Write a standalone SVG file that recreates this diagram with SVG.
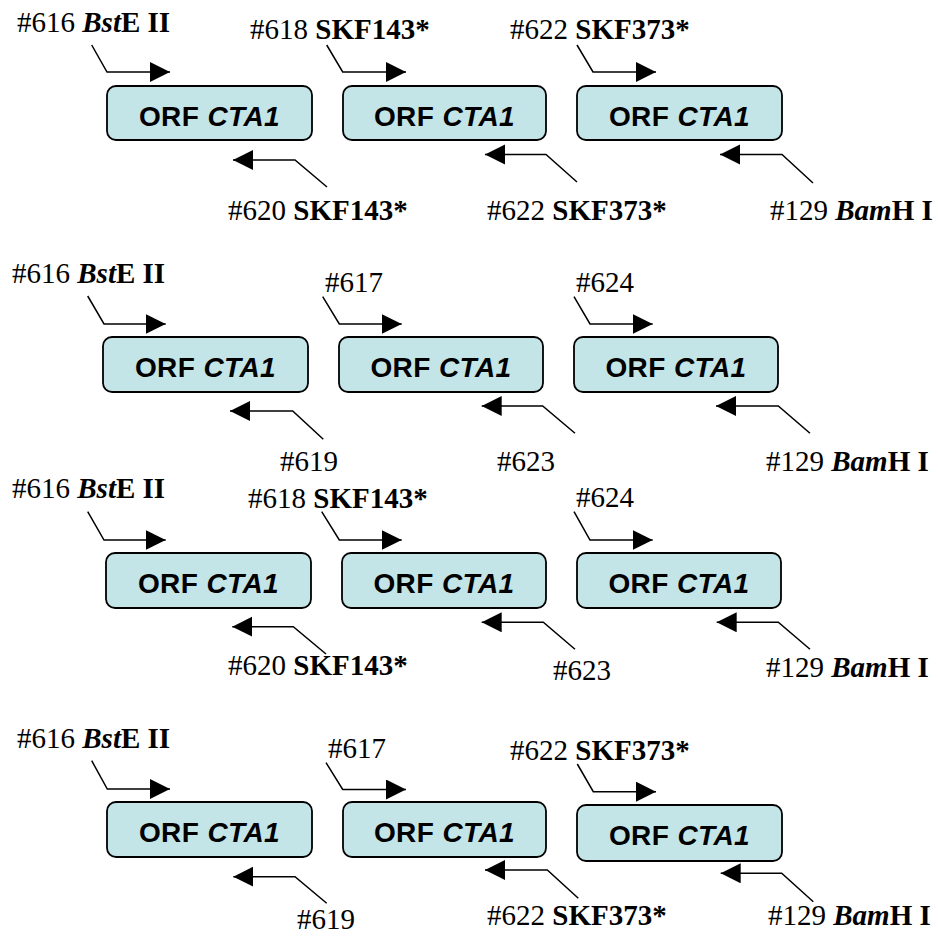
<svg xmlns="http://www.w3.org/2000/svg" width="938" height="937" viewBox="0 0 938 937">
<defs>
<marker id="ah" markerUnits="userSpaceOnUse" markerWidth="22" markerHeight="22" refX="20" refY="10" orient="auto">
<path d="M0,0 L20,10 L0,20 Z" fill="#000"/>
</marker>
<style>
.box{fill:#c4e5e8;stroke:#000;stroke-width:1.8}
.bt{font-family:"Liberation Sans",Arial,sans-serif;font-weight:bold;font-size:28px;letter-spacing:0.4px;text-anchor:middle;fill:#000}
.lb{font-family:"Liberation Serif","Times New Roman",serif;font-size:29px;fill:#000}
.b{font-weight:bold}
.bi{font-weight:bold;font-style:italic}
.i{font-style:italic}
.c{fill:none;stroke:#000;stroke-width:1.5;marker-end:url(#ah)}
</style>
</defs>
<rect width="938" height="937" fill="#fff"/>

<!-- Row 1 -->
<g id="r1b1"><rect class="box" x="107" y="86" width="205" height="54" rx="9"/><text class="bt" x="209.5" y="126">ORF <tspan class="i">CTA1</tspan></text></g>
<g id="r1b2"><rect class="box" x="343" y="86" width="203" height="54" rx="9"/><text class="bt" x="444.5" y="126">ORF <tspan class="i">CTA1</tspan></text></g>
<g id="r1b3"><rect class="box" x="577" y="86" width="205" height="54" rx="9"/><text class="bt" x="679.5" y="126">ORF <tspan class="i">CTA1</tspan></text></g>

<!-- Row 2 -->
<g id="r2b1"><rect class="box" x="103" y="337" width="205" height="55" rx="9"/><text class="bt" x="205.5" y="377">ORF <tspan class="i">CTA1</tspan></text></g>
<g id="r2b2"><rect class="box" x="339" y="337" width="204" height="55" rx="9"/><text class="bt" x="441" y="377">ORF <tspan class="i">CTA1</tspan></text></g>
<g id="r2b3"><rect class="box" x="574" y="337" width="204" height="55" rx="9"/><text class="bt" x="676" y="377">ORF <tspan class="i">CTA1</tspan></text></g>

<!-- Row 3 -->
<g id="r3b1"><rect class="box" x="106" y="553" width="205" height="55" rx="9"/><text class="bt" x="208.5" y="593">ORF <tspan class="i">CTA1</tspan></text></g>
<g id="r3b2"><rect class="box" x="342" y="553" width="204" height="55" rx="9"/><text class="bt" x="444" y="593">ORF <tspan class="i">CTA1</tspan></text></g>
<g id="r3b3"><rect class="box" x="577" y="553" width="204" height="55" rx="9"/><text class="bt" x="679" y="593">ORF <tspan class="i">CTA1</tspan></text></g>

<!-- Row 4 -->
<g id="r4b1"><rect class="box" x="107" y="802" width="205" height="55" rx="9"/><text class="bt" x="209.5" y="842">ORF <tspan class="i">CTA1</tspan></text></g>
<g id="r4b2"><rect class="box" x="343" y="802" width="203" height="55" rx="9"/><text class="bt" x="444.5" y="842">ORF <tspan class="i">CTA1</tspan></text></g>
<g id="r4b3"><rect class="box" x="577" y="805" width="205" height="56" rx="9"/><text class="bt" x="679.5" y="845">ORF <tspan class="i">CTA1</tspan></text></g>

<g id="connectors">
<path class="c" d="M91.7,45 L107,72 L170,72"/>
<path class="c" d="M326.7,45 L342.7,72 L406,72"/>
<path class="c" d="M577,45 L593,72 L656,72"/>
<path class="c" d="M327,187 L295,160 L233,160"/>
<path class="c" d="M577,182 L546,154.5 L485,154.5"/>
<path class="c" d="M813,183 L782,154.5 L720,154.5"/>

<path class="c" d="M87.7,296 L104,324 L165.7,324"/>
<path class="c" d="M322.7,296.7 L339.3,324 L401.7,324"/>
<path class="c" d="M574,296.7 L590,324 L652.7,324"/>
<path class="c" d="M323.3,439.3 L292.7,411 L230,411"/>
<path class="c" d="M575,433.3 L542.7,406 L481.7,406"/>
<path class="c" d="M810,433.3 L778.3,406 L716,406"/>

<path class="c" d="M87.7,511.7 L104,540 L165.7,540"/>
<path class="c" d="M321.7,511.7 L339.3,540 L401.7,540"/>
<path class="c" d="M574,511.7 L590,540 L652.7,540"/>
<path class="c" d="M326,654 L293.3,626.7 L232.3,626.7"/>
<path class="c" d="M575,649.3 L543.3,622.3 L481.7,622.3"/>
<path class="c" d="M810,649.3 L778.3,622.3 L716.7,622.3"/>

<path class="c" d="M91.7,760.7 L107.3,789 L170,789"/>
<path class="c" d="M326,762.7 L342.7,789.5 L406,789.5"/>
<path class="c" d="M577.3,764 L593.3,791.7 L656,791.7"/>
<path class="c" d="M326.7,903.3 L295,876.7 L233.3,876.7"/>
<path class="c" d="M578.3,898.3 L547.3,870 L485,870"/>
<path class="c" d="M813.3,901.7 L781.7,873.3 L720.7,873.3"/>
</g>

<g id="labels">
<!-- row 1 -->
<text class="lb" x="17" y="32">#616 <tspan class="bi">Bst</tspan><tspan class="b">E II</tspan></text>
<text class="lb" x="250" y="39">#618 <tspan class="b">SKF143*</tspan></text>
<text class="lb" x="510" y="39">#622 <tspan class="b">SKF373*</tspan></text>
<text class="lb" x="228" y="220">#620 <tspan class="b">SKF143*</tspan></text>
<text class="lb" x="487" y="220">#622 <tspan class="b">SKF373*</tspan></text>
<text class="lb" x="770" y="220">#129 <tspan class="bi">Bam</tspan><tspan class="b">H I</tspan></text>
<!-- row 2 -->
<text class="lb" x="12" y="283">#616 <tspan class="bi">Bst</tspan><tspan class="b">E II</tspan></text>
<text class="lb" x="325" y="292">#617</text>
<text class="lb" x="576" y="292">#624</text>
<text class="lb" x="280" y="471">#619</text>
<text class="lb" x="497" y="471">#623</text>
<text class="lb" x="766" y="471">#129 <tspan class="bi">Bam</tspan><tspan class="b">H I</tspan></text>
<!-- row 3 -->
<text class="lb" x="12" y="498">#616 <tspan class="bi">Bst</tspan><tspan class="b">E II</tspan></text>
<text class="lb" x="248" y="508">#618 <tspan class="b">SKF143*</tspan></text>
<text class="lb" x="576" y="507">#624</text>
<text class="lb" x="228" y="675">#620 <tspan class="b">SKF143*</tspan></text>
<text class="lb" x="553" y="680">#623</text>
<text class="lb" x="766" y="677">#129 <tspan class="bi">Bam</tspan><tspan class="b">H I</tspan></text>
<!-- row 4 -->
<text class="lb" x="17" y="748">#616 <tspan class="bi">Bst</tspan><tspan class="b">E II</tspan></text>
<text class="lb" x="328" y="758">#617</text>
<text class="lb" x="510" y="760">#622 <tspan class="b">SKF373*</tspan></text>
<text class="lb" x="297" y="929">#619</text>
<text class="lb" x="487" y="925">#622 <tspan class="b">SKF373*</tspan></text>
<text class="lb" x="768" y="925">#129 <tspan class="bi">Bam</tspan><tspan class="b">H I</tspan></text>
</g>
</svg>
